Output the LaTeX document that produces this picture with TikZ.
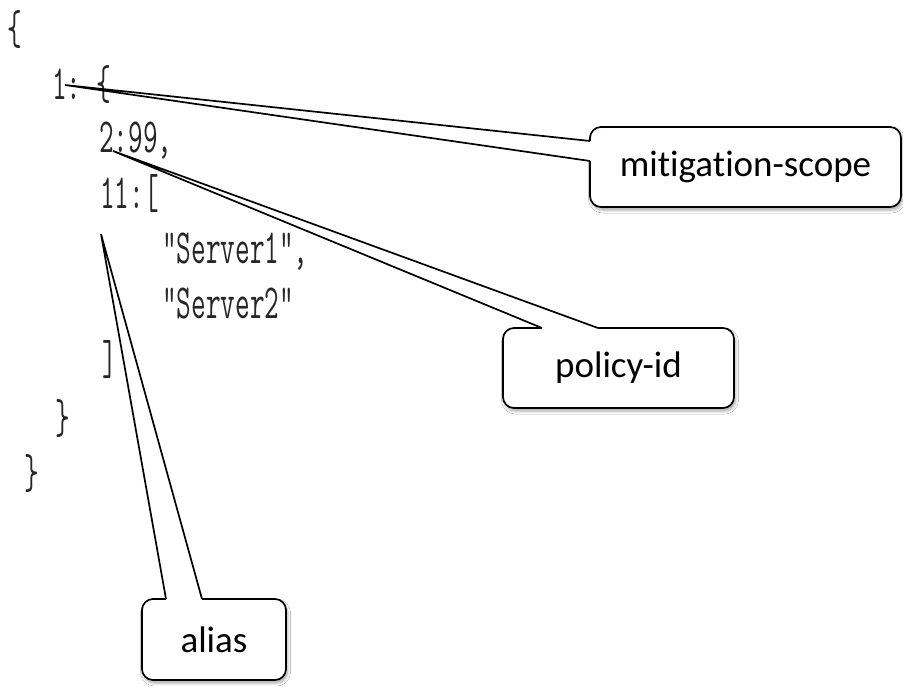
\documentclass[tikz,border=0pt]{standalone}
\usepackage{fontspec}
\usepackage{graphicx}
\setmainfont{Carlito}[Ligatures=NoCommon]
\usetikzlibrary{shadows.blur}
\tikzset{
  codeline/.style={anchor=base west, inner sep=0pt, text=black!85,
    font=\ttfamily\fontsize{49}{49}\selectfont},
  callbox/.style={draw=black, line width=1.7pt, rounded corners=11pt, fill=white,
    font=\fontsize{37}{40}\selectfont, inner sep=0pt,
    blur shadow={shadow xshift=1.5pt, shadow yshift=-3pt, shadow blur radius=3pt, shadow opacity=35}},
  pointer/.style={draw=black, line width=1.7pt},
  erase/.style={fill=white, draw=none}
}
\newcommand{\narrow}[1]{\scalebox{0.58}[1]{#1}}
\begin{document}
\begin{tikzpicture}[x=1pt,y=-1pt]
\useasboundingbox (0,0) rectangle (903,686);
\fill[white] (0,0) rectangle (903,686);
% code
\node[codeline] (c1) at (7,44)  {\narrow{\{}};
\node[codeline] (c2) at (52,99) {\narrow{1:\ \{}};
\node[codeline] (c3) at (99,152) {\narrow{2:99,}};
\node[codeline] (c4) at (100,208) {\narrow{11:[}};
\node[codeline] (c5) at (162,263) {\narrow{"Server1",}};
\node[codeline] (c6) at (162,318) {\narrow{"Server2"}};
\node[codeline] (c7) at (102,374) {\narrow{]}};
\node[codeline] (c8) at (55,433) {\narrow{\}}};
\node[codeline] (c9) at (24,488) {\narrow{\}}};
% callout boxes
\node[callbox, minimum width=311pt, minimum height=80pt] (ms) at (745.5,167) {mitigation-scope};
\node[callbox, minimum width=231pt, minimum height=80pt] (pid) at (618.5,368) {policy-id};
\node[callbox, minimum width=144pt, minimum height=81pt] (al) at (214,639.5) {alias};
% pointer tips and attachment points
\coordinate (msT) at (65,85);
\coordinate (msA) at (590,141);
\coordinate (msB) at (590,161);
\coordinate (pidT) at (113,151);
\coordinate (pidA) at (542,328);
\coordinate (pidB) at (598,328);
\coordinate (alT) at (101,234);
\coordinate (alA) at (166,599);
\coordinate (alB) at (202,599);
% pointers
\fill[erase] (msT) -- (msA) -- ([xshift=2.5pt]msA) -- ([xshift=2.5pt]msB) -- (msB) -- cycle;
\draw[pointer] (msA) -- (msT) -- (msB);
\fill[erase] (pidT) -- (pidA) -- ([yshift=-2.5pt]pidA) -- ([yshift=-2.5pt]pidB) -- (pidB) -- cycle;
\draw[pointer] (pidA) -- (pidT) -- (pidB);
\fill[erase] (alT) -- (alA) -- ([yshift=-2.5pt]alA) -- ([yshift=-2.5pt]alB) -- (alB) -- cycle;
\draw[pointer] (alA) -- (alT) -- (alB);
\end{tikzpicture}
\end{document}
